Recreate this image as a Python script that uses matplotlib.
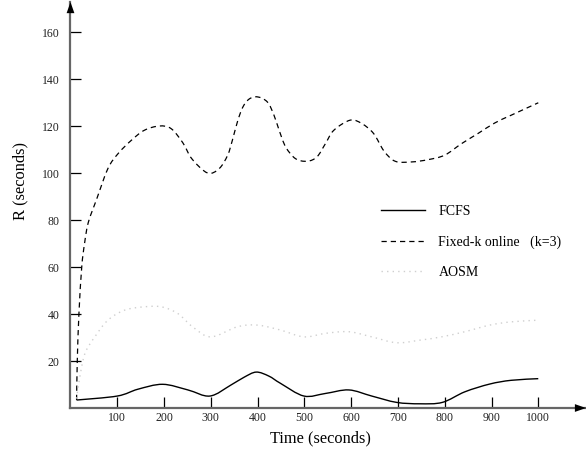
import numpy as np
import matplotlib.pyplot as plt
from matplotlib.path import Path
from matplotlib.patches import PathPatch
from matplotlib.lines import Line2D

plt.rcParams['font.family'] = ['Liberation Serif', 'DejaVu Serif']

# response time R (seconds) against time (seconds), read per scheme
fcfs_t = [13, 100, 144, 197, 251, 298, 343, 371, 397, 424, 449, 499, 545, 595,
          644, 697, 747, 795, 843, 896, 942, 1000]
fcfs_r = [3.4, 5.1, 8, 10.1, 7.7, 5.1, 9.8, 13.1, 15.3, 13.6, 10.5, 5.1, 6.2, 7.7,
          5.1, 2.4, 1.8, 2.4, 6.9, 10.2, 11.8, 12.5]

fixed_t = [13, 14.5, 18, 24, 30, 38, 56, 80, 102, 130, 158, 190, 215, 240, 260,
           293, 318, 336, 346, 357, 368, 382, 400, 421, 435, 446, 460, 481, 506, 527,
           545, 563, 598, 623, 648, 670, 694, 729, 765, 800, 836, 871, 907, 942, 1000]
fixed_r = [3.4, 20, 40, 60, 70, 79, 89, 102, 108.4, 114, 118.3, 120.1, 119, 113, 106,
           100.1, 102, 107.7, 114, 122, 128, 131.6, 132.5, 130.3, 124.7, 118.3, 111.2,
           106.2, 105.1, 107, 112.6, 118.3, 122.6, 121.1, 116.9, 109.5, 105.1, 104.8,
           105.8, 107.7, 112.6, 116.9, 121.4, 124.7, 130]

aosm_t = [13, 20, 31, 52, 80, 116, 158, 194, 229, 261, 300, 357, 400, 449, 499, 545,
          595, 644, 697, 747, 793, 843, 896, 942, 1000]
aosm_r = [4, 13.3, 23.3, 30.3, 37.4, 41.7, 43.1, 43.1, 40.3, 34.6, 30.3, 34.6, 35.3,
          33.2, 30.3, 31.8, 32.5, 30.3, 27.8, 28.9, 30.3, 32.5, 35.3, 36.7, 37.4]

xticks = [100, 200, 300, 400, 500, 600, 700, 800, 900, 1000]
yticks = [20, 40, 60, 80, 100, 120, 140, 160]


def spline_path(xs, ys):
    # Catmull-Rom curve through the points, written as cubic Bezier segments
    p = np.column_stack([xs, ys]).astype(float)
    ext = np.vstack([p[0], p, p[-1]])
    verts = [p[0]]
    codes = [Path.MOVETO]
    for i in range(len(p) - 1):
        a, b, c, d = ext[i], ext[i + 1], ext[i + 2], ext[i + 3]
        verts += [b + (c - a) / 6, c - (d - b) / 6, c]
        codes += [Path.CURVE4] * 3
    return Path(verts, codes)


fig = plt.figure(figsize=(5.86, 4.53), dpi=100)
ax = fig.add_axes([0.1203, 0.0993, 0.8797, 0.8962])

styles = [
    (fcfs_t, fcfs_r, dict(color='black', lw=1.0, linestyle='-'), 'FCFS'),
    (fixed_t, fixed_r, dict(color='black', lw=0.9, linestyle=(0, (4.2, 3.2))),
     'Fixed-k online   (k=3)'),
    (aosm_t, aosm_r, dict(color='#cfcfcf', lw=1.0, linestyle=(0, (1, 3))), 'AOSM'),
]
handles = []
for xs, ys, st, name in styles:
    ax.add_patch(PathPatch(spline_path(xs, ys), facecolor='none', edgecolor=st['color'],
                           lw=st['lw'], linestyle=st['linestyle']))
    handles.append(Line2D([], [], **st, label=name))

ax.set_xlim(0, 1102)
ax.set_ylim(0, 172.9)
ax.set_xticks(xticks)
ax.set_yticks(yticks)

for s in ['top', 'right']:
    ax.spines[s].set_visible(False)
for s in ['left', 'bottom']:
    ax.spines[s].set_color('#666666')
    ax.spines[s].set_linewidth(1.6)

ax.tick_params(direction='in', length=8, width=0.9, color='black',
               labelsize=8.5, labelcolor='#222222')
ax.tick_params(axis='x', pad=3)
ax.tick_params(axis='y', pad=8)

# arrowheads at the ends of the axes
ax.annotate('', xy=(1.0, 0), xytext=(0.975, 0), xycoords='axes fraction',
            arrowprops=dict(arrowstyle='-|>,head_length=0.8,head_width=0.28',
                            color='black', lw=0, shrinkA=0, shrinkB=0))
ax.annotate('', xy=(0, 1.0), xytext=(0, 0.97), xycoords='axes fraction',
            arrowprops=dict(arrowstyle='-|>,head_length=0.8,head_width=0.28',
                            color='black', lw=0, shrinkA=0, shrinkB=0))

ax.set_xlabel('Time (seconds)', fontsize=11.8)
ax.set_ylabel('R (seconds)', fontsize=11.8)
ax.xaxis.set_label_coords(0.485, -0.056)
ax.yaxis.set_label_coords(-0.082, 0.559)

ax.legend(handles=handles, loc='upper left', bbox_to_anchor=(0.6497, 0.548),
          bbox_transform=fig.transFigure, frameon=False, fontsize=10,
          handlelength=3.2, handletextpad=0.95, labelspacing=1.25, borderpad=0,
          borderaxespad=0)

fig.savefig('out.png', dpi=100)
